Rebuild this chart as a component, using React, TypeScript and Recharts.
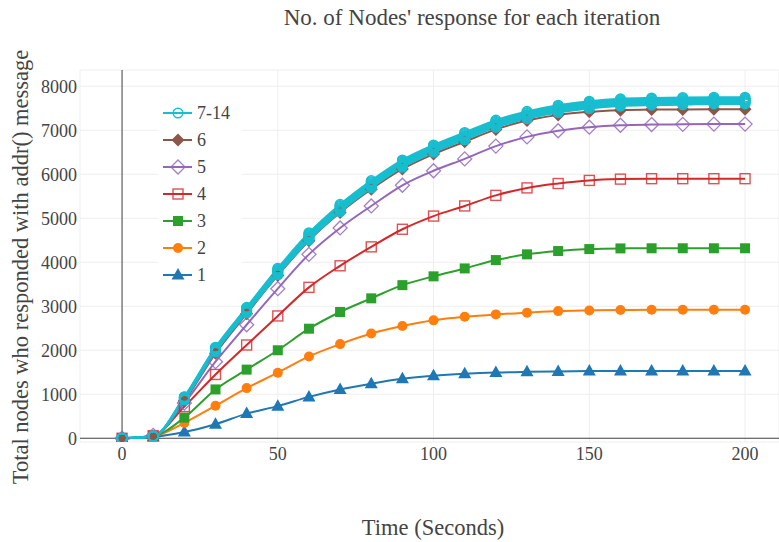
import React from 'react'
import { CartesianGrid, Legend, Line, LineChart, ReferenceLine, XAxis, YAxis } from 'recharts'

// time in seconds
const times = [0, 10, 20, 30, 40, 50, 60, 70, 80, 90, 100, 110, 120, 130, 140, 150, 160, 170, 180, 190, 200]

// iterations 1..6
const iter1 = [0, 30, 140, 320, 560, 730, 940, 1110, 1240, 1350, 1420, 1465, 1495, 1510, 1520, 1528, 1530, 1530, 1530, 1530, 1530]
const iter2 = [0, 40, 350, 740, 1140, 1490, 1860, 2140, 2380, 2550, 2680, 2760, 2815, 2855, 2890, 2905, 2915, 2920, 2920, 2920, 2920]
const iter3 = [0, 50, 470, 1110, 1560, 2000, 2490, 2870, 3180, 3480, 3680, 3860, 4050, 4180, 4255, 4300, 4315, 4318, 4318, 4318, 4318]
const iter4 = [0, 60, 720, 1450, 2120, 2780, 3430, 3920, 4350, 4750, 5050, 5280, 5520, 5690, 5790, 5860, 5890, 5900, 5900, 5900, 5900]
const iter5 = [0, 65, 800, 1740, 2580, 3400, 4180, 4780, 5280, 5750, 6080, 6350, 6640, 6850, 6990, 7070, 7115, 7130, 7135, 7140, 7140]
const iter6 = [0, 40, 850, 1930, 2830, 3700, 4490, 5130, 5660, 6120, 6460, 6740, 7020, 7220, 7350, 7420, 7455, 7470, 7475, 7480, 7480]

// iterations 7..14 (one legend entry)
const iter7 = [0, 40, 870, 1960, 2850, 3715, 4505, 5150, 5690, 6160, 6500, 6785, 7065, 7265, 7405, 7495, 7550, 7570, 7580, 7600, 7600]
const iter8 = [0, 42, 885, 1980, 2870, 3740, 4535, 5180, 5720, 6190, 6530, 6815, 7095, 7295, 7435, 7525, 7580, 7600, 7610, 7625, 7625]
const iter9 = [0, 44, 895, 1995, 2885, 3760, 4555, 5200, 5740, 6210, 6550, 6835, 7115, 7315, 7455, 7545, 7600, 7620, 7630, 7645, 7645]
const iter10 = [0, 45, 905, 2010, 2905, 3780, 4580, 5225, 5765, 6235, 6575, 6860, 7140, 7340, 7480, 7570, 7625, 7645, 7655, 7665, 7665]
const iter11 = [0, 46, 915, 2025, 2920, 3800, 4600, 5245, 5785, 6255, 6595, 6880, 7160, 7360, 7500, 7590, 7645, 7665, 7675, 7685, 7685]
const iter12 = [0, 47, 925, 2040, 2940, 3820, 4625, 5270, 5810, 6280, 6620, 6905, 7185, 7385, 7525, 7615, 7670, 7690, 7700, 7705, 7705]
const iter13 = [0, 48, 935, 2055, 2955, 3840, 4645, 5290, 5830, 6300, 6640, 6925, 7205, 7405, 7545, 7635, 7690, 7710, 7720, 7725, 7725]
const iter14 = [0, 50, 945, 2070, 2975, 3865, 4670, 5315, 5855, 6325, 6665, 6950, 7230, 7430, 7570, 7660, 7715, 7735, 7745, 7750, 7750]

const xTicks = [0, 50, 100, 150, 200]
const yTicks = [0, 1000, 2000, 3000, 4000, 5000, 6000, 7000, 8000]

const allSeries = [iter1, iter2, iter3, iter4, iter5, iter6, iter7, iter8, iter9, iter10, iter11, iter12, iter13, iter14]

const data = times.map((t, i) => {
  const row: any = { t }
  allSeries.forEach((s, k) => {
    row['s' + (k + 1)] = s[i]
  })
  return row
})

type Shape = 'triangle' | 'circle' | 'square' | 'squareOpen' | 'diamondOpen' | 'diamond' | 'circleOpen'

const CYAN = '#17becf'

const styles: { shape: Shape; color: string }[] = [
  { shape: 'triangle', color: '#1f77b4' },
  { shape: 'circle', color: '#ff7f0e' },
  { shape: 'square', color: '#2ca02c' },
  { shape: 'squareOpen', color: '#d62728' },
  { shape: 'diamondOpen', color: '#9467bd' },
  { shape: 'diamond', color: '#8c564b' },
]

const legendItems = [
  { label: '7-14', shape: 'circleOpen' as Shape, color: CYAN },
  { label: '6', ...styles[5] },
  { label: '5', ...styles[4] },
  { label: '4', ...styles[3] },
  { label: '3', ...styles[2] },
  { label: '2', ...styles[1] },
  { label: '1', ...styles[0] },
]

const font = '"Liberation Serif", "DejaVu Serif", serif'
const txt = { fontFamily: font, fill: '#444' }

function marker(shape: Shape, color: string, cx: number, cy: number, key?: any) {
  switch (shape) {
    case 'triangle':
      return <polygon key={key} points={`${cx},${cy - 7} ${cx + 6.5},${cy + 4.5} ${cx - 6.5},${cy + 4.5}`} fill={color} />
    case 'circle':
      return <circle key={key} cx={cx} cy={cy} r={5} fill={color} />
    case 'square':
      return <rect key={key} x={cx - 5} y={cy - 5} width={10} height={10} fill={color} />
    case 'squareOpen':
      return <rect key={key} x={cx - 5} y={cy - 5} width={10} height={10} fill="none" stroke={color} strokeWidth={1.4} strokeOpacity={0.8} />
    case 'diamondOpen':
      return <polygon key={key} points={`${cx},${cy - 7} ${cx + 7},${cy} ${cx},${cy + 7} ${cx - 7},${cy}`} fill="none" stroke={color} strokeWidth={1.3} strokeOpacity={0.85} />
    case 'diamond':
      return <polygon key={key} points={`${cx},${cy - 6.5} ${cx + 6.5},${cy} ${cx},${cy + 6.5} ${cx - 6.5},${cy}`} fill={color} />
    case 'circleOpen':
      return <circle key={key} cx={cx} cy={cy} r={4.8} fill="none" stroke={color} strokeWidth={1.5} />
  }
}

const makeDot = (shape: Shape, color: string) => (props: any) => marker(shape, color, props.cx, props.cy, props.key)

const XTick = (props: any) => (
  <text x={props.x} y={props.y} dy="0.9em" textAnchor="middle" fontSize={18} style={txt}>
    {props.payload.value}
  </text>
)

const YTick = (props: any) => (
  <text x={props.x} y={props.y} dy="0.35em" textAnchor="end" fontSize={18} style={txt}>
    {props.payload.value}
  </text>
)

const renderLegend = () => (
  <svg width={84} height={194} style={{ display: 'block', background: '#fff' }}>
    {legendItems.map((it, i) => {
      const y = 13 + i * 27
      return (
        <g key={it.label}>
          <line x1={5} x2={34} y1={y} y2={y} stroke={it.color} strokeWidth={2} />
          {marker(it.shape, it.color, 20, y)}
          <text x={39} y={y} dy="0.35em" fontSize={18} style={txt}>
            {it.label}
          </text>
        </g>
      )
    })}
  </svg>
)

export default function App() {
  return (
    <div style={{ position: 'absolute', left: 0, top: 0, width: 779, height: 542, background: '#fff', fontFamily: font }}>
      <LineChart width={779} height={542} data={data} margin={{ top: 70, right: 0, bottom: 70, left: 0 }}>
        <CartesianGrid stroke="#eee" strokeWidth={1} />
        <XAxis
          dataKey="t"
          type="number"
          domain={[-13.5, 210.9]}
          ticks={xTicks}
          allowDataOverflow
          axisLine={false}
          tickLine={false}
          tickSize={0}
          tickMargin={2}
          height={30}
          tick={<XTick />}
        />
        <YAxis
          type="number"
          domain={[-85, 8370]}
          ticks={yTicks}
          allowDataOverflow
          axisLine={false}
          tickLine={false}
          tickSize={0}
          tickMargin={3}
          width={80}
          tick={<YTick />}
        />
        <ReferenceLine x={0} stroke="#444" strokeWidth={1} />
        <ReferenceLine y={0} stroke="#444" strokeWidth={1} />
        {styles.map((st, k) => (
          <Line
            key={'s' + (k + 1)}
            dataKey={'s' + (k + 1)}
            type="monotone"
            stroke={st.color}
            strokeWidth={2}
            dot={makeDot(st.shape, st.color)}
            activeDot={false}
            isAnimationActive={false}
          />
        ))}
        {[7, 8, 9, 10, 11, 12, 13, 14].map((n) => (
          <Line
            key={'s' + n}
            dataKey={'s' + n}
            type="monotone"
            stroke={CYAN}
            strokeWidth={2}
            dot={makeDot('circleOpen', CYAN)}
            activeDot={false}
            isAnimationActive={false}
          />
        ))}
        <Legend
          layout="vertical"
          align="center"
          verticalAlign="middle"
          content={renderLegend}
          wrapperStyle={{ left: 158, top: 100, width: 84, height: 194 }}
        />
        <text x={472} y={17} dy="0.35em" textAnchor="middle" fontSize={23} style={txt}>
          No. of Nodes' response for each iteration
        </text>
        <text x={433} y={527} dy="0.35em" textAnchor="middle" fontSize={22.5} style={txt}>
          Time (Seconds)
        </text>
        <text x={20} y={267} dy="0.35em" textAnchor="middle" fontSize={22.5} style={txt} transform="rotate(-90 20 267)">
          Total nodes who responded with addr() message
        </text>
      </LineChart>
    </div>
  )
}
